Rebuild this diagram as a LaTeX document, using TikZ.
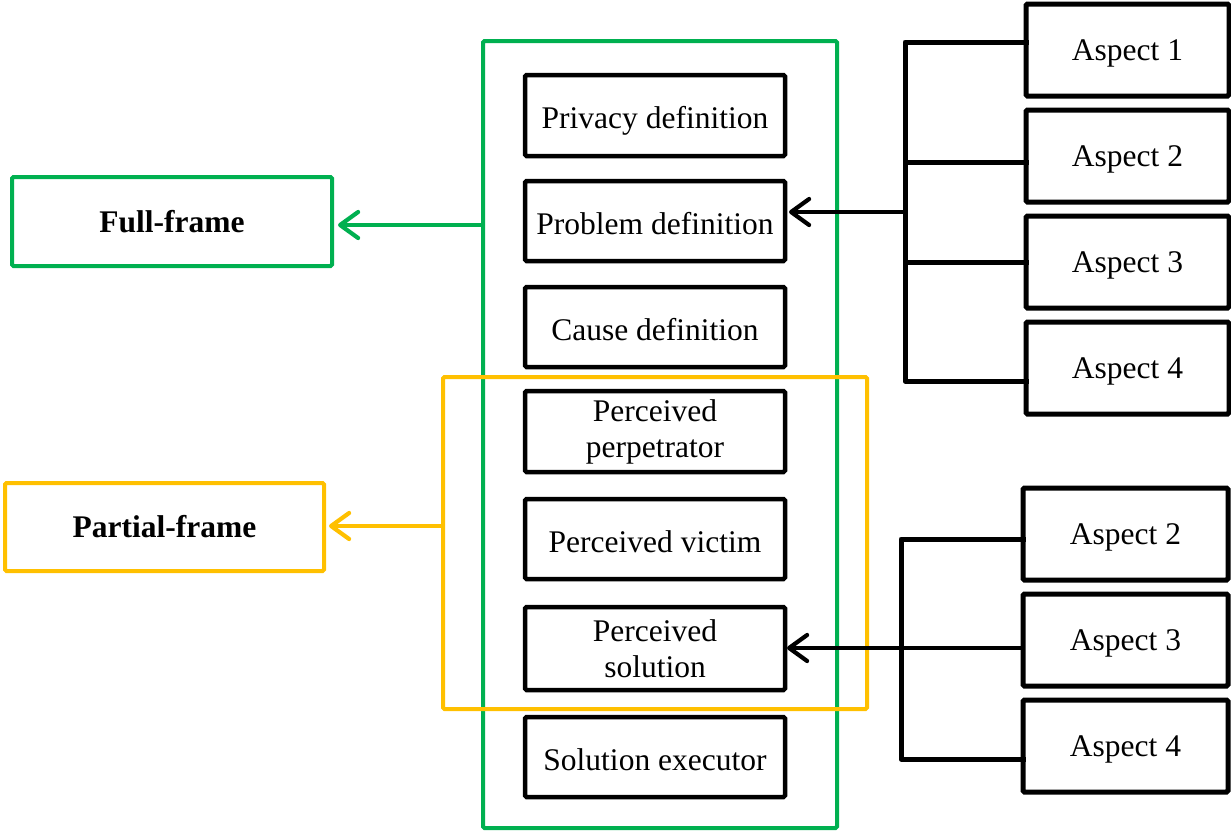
\documentclass[tikz,border=0pt]{standalone}
\usepackage{fontspec}
\setmainfont{Liberation Serif}
\usetikzlibrary{arrows.meta}
\definecolor{fgreen}{RGB}{0,176,80}
\definecolor{forange}{RGB}{255,192,0}
\begin{document}
\begin{tikzpicture}[x=1pt,y=-1pt,
  every node/.style={font=\fontsize{31.5pt}{36pt}\selectfont, inner sep=0pt, outer sep=0pt},
  cbox/.style={draw=black, line width=4.5pt, rounded corners=1.5pt, minimum width=260pt, align=center},
  one/.style={text height=26pt, text depth=0pt},
  abox/.style={draw=black, line width=5pt, rounded corners=1.5pt, minimum height=92pt, text height=21pt, text depth=0pt},
  frame/.style={line width=4pt, rounded corners=1.5pt},
  lbl/.style={draw, line width=4pt, rounded corners=1.5pt, font=\fontsize{31.5pt}{36pt}\selectfont\bfseries},
  conn/.style={line width=5pt, line cap=rect},
  arr/.style={line width=4.2pt, -{Straight Barb[length=18pt,width=26pt,round]}}
]
\useasboundingbox (0,0) rectangle (1231,830);

% big frames
\node[frame, draw=fgreen, minimum width=354pt, minimum height=787pt] (gbox) at (660,434.5) {};
\node[frame, draw=forange, minimum width=424pt, minimum height=332pt] (obox) at (655,543) {};

% centre boxes
\node[cbox, one, minimum height=81pt] (priv) at (655,115.5) {Privacy definition};
\node[cbox, one, minimum height=80pt] (prob) at (655,221) {Problem definition};
\node[cbox, one, minimum height=80pt] (cause) at (655,327) {Cause definition};
\node[cbox, minimum height=81pt] (perp) at (655,431.5) {Perceived\\perpetrator};
\node[cbox, one, minimum height=80pt] (vict) at (655,539) {Perceived victim};
\node[cbox, minimum height=83pt] (sol) at (655,648.5) {Perceived\\solution};
\node[cbox, one, minimum height=80pt] (exec) at (655,757) {Solution executor};

% left labels
\node[lbl, draw=fgreen, minimum width=320pt, minimum height=89pt] (ff) at (172,221.5) {Full-frame};
\node[lbl, draw=forange, minimum width=319pt, minimum height=88pt] (pf) at (164.5,527) {Partial-frame};

% top aspects
\node[abox, minimum width=203pt] (a1) at (1127.5,50) {Aspect 1};
\node[abox, minimum width=203pt] (a2) at (1127.5,156) {Aspect 2};
\node[abox, minimum width=203pt] (a3) at (1127.5,262) {Aspect 3};
\node[abox, minimum width=203pt] (a4) at (1127.5,368) {Aspect 4};

% bottom aspects
\node[abox, minimum width=205pt] (b2) at (1125.5,534) {Aspect 2};
\node[abox, minimum width=205pt] (b3) at (1125.5,640) {Aspect 3};
\node[abox, minimum width=205pt] (b4) at (1125.5,746) {Aspect 4};

% frame arrows
\coordinate (fa) at (483,225);
\draw[arr, fgreen, shorten >=6pt] (fa) -- (fa -| ff.east);
\coordinate (pa) at (443,526);
\draw[arr, forange, shorten >=5pt] (pa) -- (pa -| pf.east);

% top bracket
\coordinate (t1) at (905,42);
\coordinate (t2) at (905,162);
\coordinate (t3) at (905,262);
\coordinate (t4) at (905,381);
\coordinate (tm) at (905,212);
\draw[conn, line join=round] (t1 -| a1.west) -- (t1) -- (t4) -- (t4 -| a4.west);
\draw[conn] (t2) -- (t2 -| a2.west);
\draw[conn] (t3) -- (t3 -| a3.west);
\draw[arr, shorten >=4pt] (tm) -- (tm -| prob.east);

% bottom bracket
\coordinate (s1) at (901,539);
\coordinate (s4) at (901,759);
\coordinate (sm) at (901,648);
\draw[conn, line join=round] (s1 -| b2.west) -- (s1) -- (s4) -- (s4 -| b4.west);
\draw[arr, shorten >=2pt] (sm -| b3.west) -- (sm -| sol.east);
\end{tikzpicture}
\end{document}
